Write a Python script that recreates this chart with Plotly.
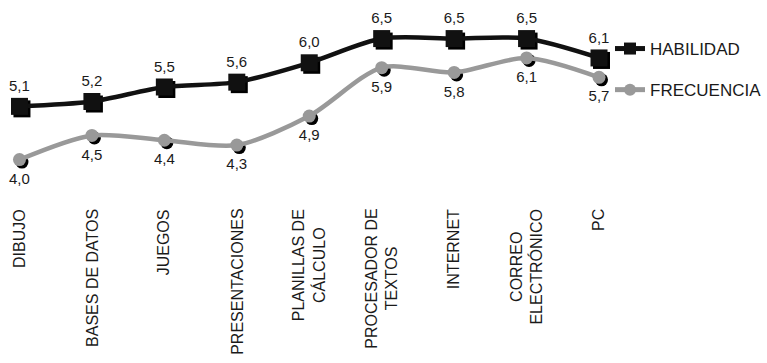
import plotly.graph_objects as go

categories = ["DIBUJO", "BASES DE DATOS", "JUEGOS", "PRESENTACIONES",
              "PLANILLAS DE<br>CÁLCULO", "PROCESADOR DE<br>TEXTOS", "INTERNET",
              "CORREO<br>ELECTRÓNICO", "PC"]
habilidad = [5.1, 5.2, 5.5, 5.6, 6.0, 6.5, 6.5, 6.5, 6.1]
frecuencia = [4.0, 4.5, 4.4, 4.3, 4.9, 5.9, 5.8, 6.1, 5.7]

W, H = 767, 363
ML, MR, MT, MB = 0, 147, 0, 163
PW = W - ML - MR
PH = H - MT - MB
# scales (px per unit)
XPX = 72.56
YPX = 48.41
x0 = -19.5 / XPX
x1 = x0 + PW / XPX
ytop = 5.478 + 88.06 / YPX
ybot = ytop - PH / YPX
# shadow offsets in px
SDX, SDY = 2.5, 2.5

xs = list(range(len(categories)))
FONT = "Arial, Liberation Sans, sans-serif"
BLACK = "#111111"
GREY = "#999999"
TXT = "#1a1a1a"

fig = go.Figure()
# shadows on base axes (shifted)
fig.add_trace(go.Scatter(x=xs, y=habilidad, mode="markers", xaxis="x", yaxis="y",
                         marker=dict(symbol="square", size=17, color="#000000"),
                         showlegend=False, hoverinfo="skip"))
fig.add_trace(go.Scatter(x=xs, y=frecuencia, mode="markers", xaxis="x", yaxis="y",
                         marker=dict(symbol="circle", size=13, color="#000000"),
                         showlegend=False, hoverinfo="skip"))
# main traces
fig.add_trace(go.Scatter(x=xs, y=habilidad, mode="lines+markers+text", xaxis="x2", yaxis="y2",
                         name="HABILIDAD", legendgroup="a",
                         line=dict(color=BLACK, width=4.5, shape="spline", smoothing=0.8),
                         marker=dict(symbol="square", size=17, color=BLACK),
                         texttemplate="%{y:.1f}", textposition="top center",
                         textfont=dict(family=FONT, size=15, color=TXT)))
fig.add_trace(go.Scatter(x=xs, y=frecuencia, mode="lines+markers", xaxis="x2", yaxis="y2",
                         name="FRECUENCIA", legendgroup="b",
                         line=dict(color=GREY, width=4.5, shape="spline", smoothing=0.8),
                         marker=dict(symbol="circle", size=13, color=GREY)))
# value labels for FRECUENCIA (slightly further below the markers)
fig.add_trace(go.Scatter(x=xs, y=frecuencia, mode="markers+text", xaxis="x2", yaxis="y2",
                         marker=dict(size=19, color="rgba(0,0,0,0)"),
                         texttemplate="%{y:.1f}", textposition="bottom center",
                         textfont=dict(family=FONT, size=15, color=TXT),
                         showlegend=False, hoverinfo="skip"))

annotations = []
for i, c in enumerate(categories):
    annotations.append(dict(x=i, xref="x2", y=-7 / PH, yref="paper", text=c,
                            textangle=-90, showarrow=False, xanchor="center", yanchor="top",
                            align="center", font=dict(family=FONT, size=16, color=TXT)))

ax_common = dict(showgrid=False, zeroline=False, showline=False, showticklabels=False, ticks="")
fig.update_layout(
    width=W, height=H,
    margin=dict(l=ML, r=MR, t=MT, b=MB),
    paper_bgcolor="white", plot_bgcolor="white",
    separators=",.",
    font=dict(family=FONT, size=16, color=TXT),
    xaxis=dict(range=[x0 - SDX / XPX, x1 - SDX / XPX], **ax_common),
    yaxis=dict(range=[ybot + SDY / YPX, ytop + SDY / YPX], **ax_common),
    xaxis2=dict(range=[x0, x1], overlaying="x", **ax_common),
    yaxis2=dict(range=[ybot, ytop], overlaying="y", **ax_common),
    legend=dict(x=611 / PW, xanchor="left", y=1 - 31 / PH, yanchor="top",
                traceorder="grouped", tracegroupgap=16, bgcolor="rgba(0,0,0,0)",
                font=dict(family=FONT, size=17, color=TXT), itemsizing="constant"),
    annotations=annotations,
    showlegend=True,
)
fig.write_html("out.html", config={"displayModeBar": False},
               post_script="document.body.style.margin='0';")
